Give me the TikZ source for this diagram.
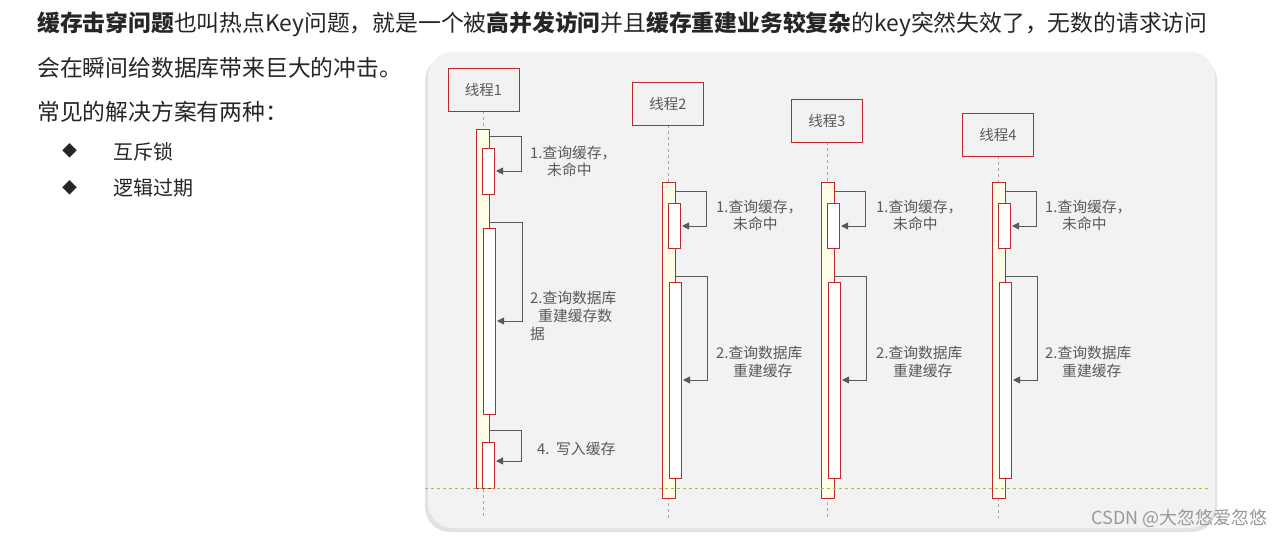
\documentclass[tikz,border=0pt]{standalone}
\usepackage{fontspec}
\setmainfont{Noto Sans CJK SC}
\usetikzlibrary{shadows,arrows.meta}
\definecolor{bx}{HTML}{C0282D}
\definecolor{ln}{HTML}{595959}
\definecolor{act}{HTML}{FFFFE8}
\definecolor{grn}{HTML}{9BC43C}
\begin{document}
\begin{tikzpicture}[x=1pt,y=-1pt,
  thr/.style={draw=bx,fill=none,line width=0.9pt,inner sep=0},
  lab/.style={font=\fontsize{14.8}{16}\selectfont,text=ln,anchor=west,inner sep=0},
  outer/.style={draw=bx,fill=act,line width=0.8pt},
  inner/.style={draw=bx,fill=white,line width=0.8pt},
  msg/.style={draw=ln,line width=0.9pt,-{Triangle[length=7pt,width=7pt]}},
  life/.style={draw=gray!70,dashed,line width=0.6pt},
  ttxt/.style={font=\fontsize{22.8}{25}\selectfont,text=black!85,anchor=west,inner sep=0}]
\useasboundingbox (0,0) rectangle (1283,537);
\fill[white] (0,0) rectangle (1283,537);
\node[ttxt] (t1) at (37,24) {\textbf{缓存击穿问题}也叫热点Key问题，就是一个被\textbf{高并发访问}并且\textbf{缓存重建业务较复杂}的key突然失效了，无数的请求访问};
\node[ttxt] (t2) at (37,68) {会在瞬间给数据库带来巨大的冲击。};
\node[ttxt] (t3) at (37,112) {常见的解决方案有两种：};
\node[ttxt,font=\fontsize{15}{16}\selectfont] (b1) at (62,151) {◆};
\node[ttxt,font=\fontsize{20}{22}\selectfont] (t4) at (113,152) {互斥锁};
\node[ttxt,font=\fontsize{15}{16}\selectfont] (b2) at (62,188) {◆};
\node[ttxt,font=\fontsize{20}{22}\selectfont] (t5) at (113,188) {逻辑过期};
\fill[rounded corners=25pt,fill=gray!45,opacity=0.5] (425,56) rectangle (1217,532);
\fill[rounded corners=25pt,fill=black!5] (428,52) rectangle (1215,528);
% thread 1
\draw[life] (483,111) -- (483,518);
\node[thr,minimum width=71pt,minimum height=43pt] (h1) at (483.5,89.5) {\fontsize{14.5}{16}\selectfont\color{ln}线程1};
\draw[outer] (476,129) rectangle (489,488);
\draw[inner] (482,148) rectangle (494,194);
\draw[msg] (489,136) -- (521,136) -- (521,171) -- (496,171);
\node[lab] (l11) at (530,153) {1.查询缓存，};
\node[lab] (l12) at (547,170) {未命中};
\draw[inner] (483,228) rectangle (495,414);
\draw[msg] (489,222) -- (522,222) -- (522,321) -- (497,321);
\node[lab] (l21) at (530,298) {2.查询数据库};
\node[lab] (l22) at (538,316) {重建缓存数};
\node[lab] (l23) at (530,334) {据};
\draw[inner] (482,442) rectangle (494,488);
\draw[msg] (489,430) -- (521,430) -- (521,461) -- (496,461);
\node[lab] (l4) at (537,449) {4.\ \ 写入缓存};
% other threads
\foreach \n/\x/\ty/\tx in {2/668/104/716,3/827/121/876,4/998/135/1045}{
  \draw[life] (\x,\ty+21) -- (\x,518);
  \node[thr,minimum width=71pt,minimum height=43pt] (h\n) at (\x,\ty) {\fontsize{14.5}{16}\selectfont\color{ln}线程\n};
  \draw[outer] (\x-6,182) rectangle (\x+7,498);
  \draw[inner] (\x,203) rectangle (\x+12,248);
  \draw[msg] (\x+7,191) -- (\x+38,191) -- (\x+38,226) -- (\x+14,226);
  \node[lab] at (\tx,207) {1.查询缓存，};
  \node[lab] at (\tx+17,224) {未命中};
  \draw[inner] (\x+1,282) rectangle (\x+13,478);
  \draw[msg] (\x+7,276) -- (\x+39,276) -- (\x+39,380) -- (\x+15,380);
  \node[lab] at (\tx,353) {2.查询数据库};
  \node[lab] at (\tx+17,371) {重建缓存};
}
\draw[draw=grn,dashed,line width=0.7pt] (425,488) -- (1210,488);
\node[anchor=east,inner sep=0,text=gray!80,font=\fontsize{18}{20}\selectfont] (wm) at (1268,518) {CSDN @大忽悠爱忽悠};
\end{tikzpicture}
\end{document}
